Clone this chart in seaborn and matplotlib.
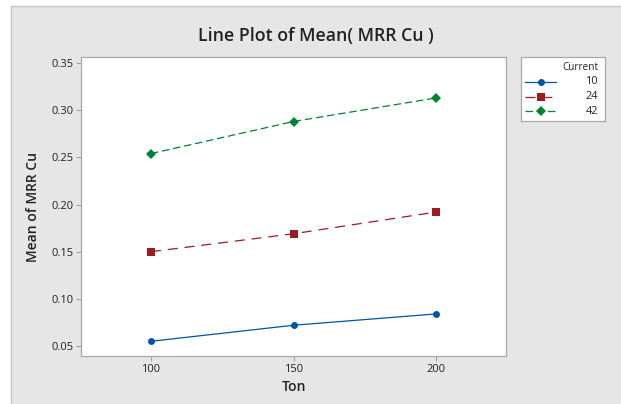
import numpy as np
import pandas as pd
import matplotlib
matplotlib.use("Agg")
import matplotlib.pyplot as plt
from matplotlib.patches import Rectangle
from matplotlib.lines import Line2D
import seaborn as sns

# values
ton = [100, 150, 200]
current_levels = ["10", "24", "42"]
mrr_10 = [0.055, 0.072, 0.084]
mrr_24 = [0.150, 0.169, 0.192]
mrr_42 = [0.254, 0.288, 0.313]
y_ticks = [0.05, 0.10, 0.15, 0.20, 0.25, 0.30, 0.35]

colors = ["#0054A6", "#9B1B1E", "#00832F"]
markers = ["o", "s", "D"]
msizes = [5, 5.2, 5.5]
dashes = ["", (8, 5.5), (6, 3)]

df = pd.DataFrame({
    "Ton": ton * 3,
    "MRR": mrr_10 + mrr_24 + mrr_42,
    "Current": sum([[c] * len(ton) for c in current_levels], []),
})

sns.set_style("white")
plt.rcParams["font.family"] = ["Open Sans", "DejaVu Sans"]

fig = plt.figure(figsize=(6.21, 4.04), dpi=100)
fig.patch.set_facecolor("white")
# gray Minitab-like graph region
fig.patches.append(Rectangle((11 / 621, -0.01), 1.0, (404 - 6) / 404 + 0.01,
                             transform=fig.transFigure, facecolor="#e6e6e6",
                             edgecolor="#c4c4c4", linewidth=1.0, zorder=-5))

ax = fig.add_axes([81 / 621, 1 - 356 / 404, 425 / 621, 299 / 404])
ax.set_facecolor("white")

sns.lineplot(data=df, x="Ton", y="MRR", hue="Current", style="Current",
             hue_order=current_levels, style_order=current_levels,
             palette=colors, markers=markers, dashes=dashes,
             markersize=5, linewidth=0.9, markeredgewidth=0,
             legend=False, ax=ax)
for line, ms in zip(ax.lines, msizes):
    line.set_markersize(ms)

ax.set_xlim(75.4, 224.6)
ax.set_ylim(0.0394, 0.3564)
ax.set_xticks(ton)
ax.set_yticks(y_ticks)
ax.set_yticklabels([f"{v:.2f}" for v in y_ticks])
ax.tick_params(axis="both", labelsize=8, colors="#a0a0a0", labelcolor="#222222",
               length=3.5, width=0.8, direction="out", pad=2)
ax.tick_params(left=True, bottom=True)
for side in ["left", "bottom", "right", "top"]:
    ax.spines[side].set_color("#a8a8a8")
    ax.spines[side].set_linewidth(0.9)

ax.set_xlabel("Ton", fontsize=10, color="#222222", fontweight="semibold", labelpad=4)
ax.set_ylabel("Mean of MRR Cu", fontsize=10, color="#222222", fontweight="semibold", labelpad=8)

fig.text(316 / 621, 1 - 36 / 404, "Line Plot of Mean( MRR Cu )", ha="center", va="center",
         fontsize=12.8, fontweight="semibold", color="#222222")

# legend box drawn on its own axes
lax = fig.add_axes([521 / 621, 1 - 121 / 404, 84 / 621, 64 / 404])
lax.set_xlim(521, 605)
lax.set_ylim(121, 57)
lax.set_xticks([])
lax.set_yticks([])
lax.set_facecolor("white")
for s in lax.spines.values():
    s.set_color("#a8a8a8")
    s.set_linewidth(0.9)
lax.text(598, 67, "Current", ha="right", va="center", fontsize=7.2, color="#222222")
for i, lvl in enumerate(current_levels):
    yy = 82 + i * 14.5
    lax.add_line(Line2D([525, 556], [yy, yy], color=colors[i], linewidth=0.9,
                        dashes=dashes[i] if dashes[i] else (None, None)))
    lax.add_line(Line2D([540.5], [yy], marker=markers[i], markersize=msizes[i],
                        markeredgewidth=0, color=colors[i]))
    lax.text(598, yy, lvl, ha="right", va="center", fontsize=7.8, color="#222222")

fig.savefig("out.png", dpi=100, facecolor=fig.get_facecolor())
